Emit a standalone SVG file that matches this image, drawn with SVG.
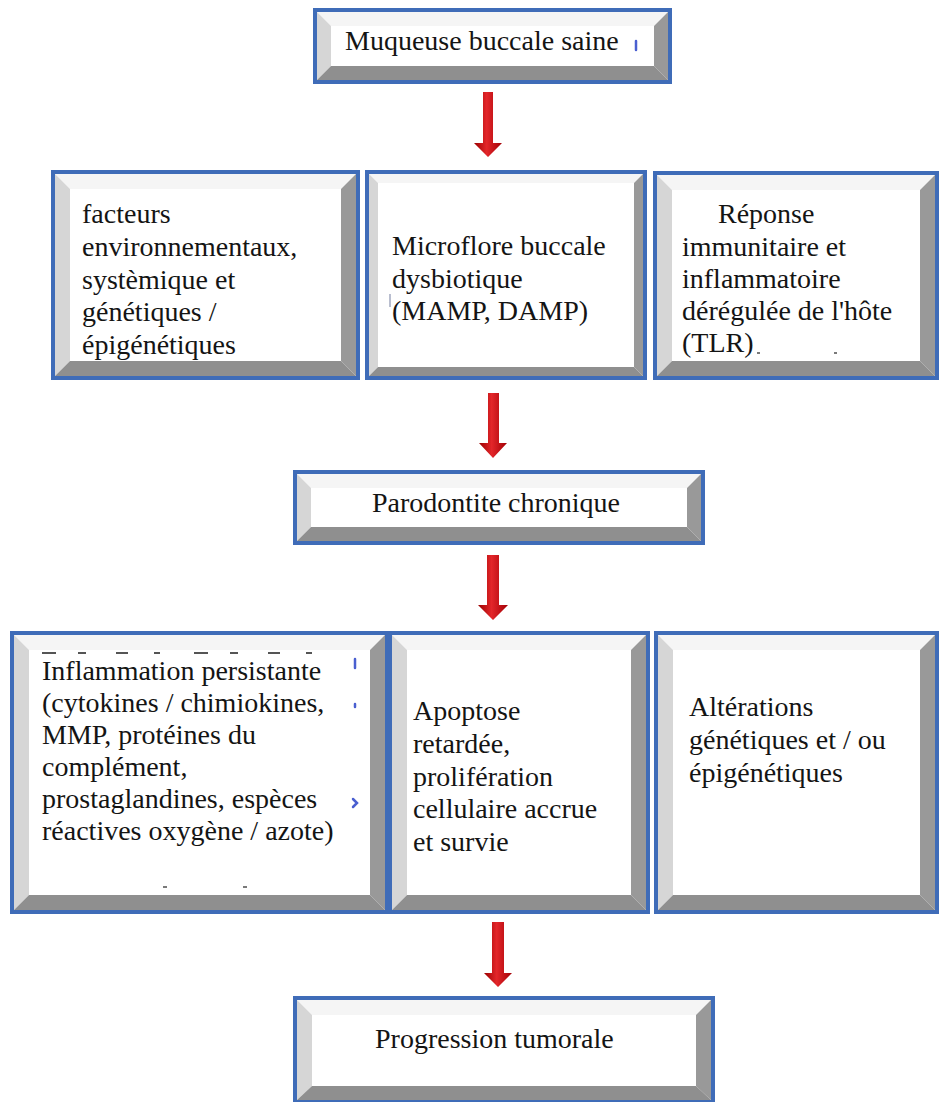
<svg xmlns="http://www.w3.org/2000/svg" width="939" height="1102" viewBox="0 0 939 1102">
<defs>
<linearGradient id="red" x1="0" y1="0" x2="1" y2="0">
<stop offset="0" stop-color="#9a0000"/>
<stop offset="0.45" stop-color="#e3262a"/>
<stop offset="1" stop-color="#a30006"/>
</linearGradient>
<style>
.frame{fill:#ffffff;stroke:#3f6cb8;stroke-width:4}
.bt{fill:#f5f5f5}
.bl{fill:#d6d6d6}
.br{fill:#999999}
.bb{fill:#8f8f8f}
text{font-size:28px;fill:#141414}
.arrow{fill:url(#red)}
.mark{stroke:#4a5fd0;stroke-width:2.5;stroke-linecap:round;fill:none}
.dot{stroke:#7a7a7a;stroke-width:2;fill:none}
</style>
</defs>
<rect width="939" height="1102" fill="#ffffff"/>

<g id="connectors">
<path class="arrow" d="M483,92 H493 V143 H502 L488,157 L474,143 H483 Z"/>
<path class="arrow" d="M488,393 H499 V443 H507 L493,458 L479,443 H488 Z"/>
<path class="arrow" d="M487,555 H499 V605 H508 L493,620 L478,605 H487 Z"/>
<path class="arrow" d="M492,922 H504 V973 H512 L498,987 L484,973 H492 Z"/>
</g>

<g font-family="Liberation Serif, Times New Roman, DejaVu Serif, serif">
<g id="node-muqueuse">
<rect class="frame" x="315" y="10" width="355" height="72"/>
<polygon class="bt" points="317,12 668,12 654,26 331,26"/>
<polygon class="bl" points="317,12 331,26 331,66 317,80"/>
<polygon class="br" points="668,12 668,80 654,66 654,26"/>
<polygon class="bb" points="317,80 331,66 654,66 668,80"/>
<text x="345" y="50">Muqueuse buccale saine</text>
<line class="mark" x1="636" y1="41" x2="636" y2="50"/>
</g>

<g id="node-facteurs">
<rect class="frame" x="53" y="172" width="305" height="206"/>
<polygon class="bt" points="55,174 356,174 341,189 70,189"/>
<polygon class="bl" points="55,174 70,189 70,361 55,376"/>
<polygon class="br" points="356,174 356,376 341,361 341,189"/>
<polygon class="bb" points="55,376 70,361 341,361 356,376"/>
<text x="82" y="223">facteurs</text>
<text x="82" y="256">environnementaux,</text>
<text x="82" y="289">systèmique et</text>
<text x="82" y="321">génétiques /</text>
<text x="82" y="354">épigénétiques</text>
</g>

<g id="node-microflore">
<rect class="frame" x="367" y="172" width="278" height="206"/>
<polygon class="bt" points="369,174 643,174 634,183 378,183"/>
<polygon class="bl" points="369,174 378,183 378,367 369,376"/>
<polygon class="br" points="643,174 643,376 634,367 634,183"/>
<polygon class="bb" points="369,376 378,367 634,367 643,376"/>
<text x="392" y="255">Microflore buccale</text>
<text x="392" y="288">dysbiotique</text>
<text x="392" y="320">(MAMP, DAMP)</text>
<line x1="390" y1="294" x2="390" y2="307" stroke="#8a93b0" stroke-width="1.2"/>
</g>

<g id="node-reponse">
<rect class="frame" x="655" y="173" width="282" height="205"/>
<polygon class="bt" points="657,175 935,175 920,190 672,190"/>
<polygon class="bl" points="657,175 672,190 672,361 657,376"/>
<polygon class="br" points="935,175 935,376 920,361 920,190"/>
<polygon class="bb" points="657,376 672,361 920,361 935,376"/>
<text x="718" y="223">Réponse</text>
<text x="682" y="256">immunitaire et</text>
<text x="682" y="288">inflammatoire</text>
<text x="682" y="320">dérégulée de l'hôte</text>
<text x="682" y="352">(TLR)</text>
<line class="dot" x1="757" y1="353" x2="760" y2="353"/>
<line class="dot" x1="834" y1="353" x2="837" y2="353"/>
</g>

<g id="node-parodontite">
<rect class="frame" x="295" y="472" width="408" height="71"/>
<polygon class="bt" points="297,474 701,474 687,488 311,488"/>
<polygon class="bl" points="297,474 311,488 311,527 297,541"/>
<polygon class="br" points="701,474 701,541 687,527 687,488"/>
<polygon class="bb" points="297,541 311,527 687,527 701,541"/>
<text x="372" y="512">Parodontite chronique</text>
</g>

<g id="node-inflammation">
<rect class="frame" x="12" y="633" width="375" height="279"/>
<polygon class="bt" points="14,635 385,635 370,650 29,650"/>
<polygon class="bl" points="14,635 29,650 29,895 14,910"/>
<polygon class="br" points="385,635 385,910 370,895 370,650"/>
<polygon class="bb" points="14,910 29,895 370,895 385,910"/>
<line x1="42" y1="653" x2="330" y2="653" stroke="#555555" stroke-width="2" stroke-dasharray="14 22 8 30 12 26 6 34"/>
<text x="42" y="680">Inflammation persistante</text>
<text x="42" y="712">(cytokines / chimiokines,</text>
<text x="42" y="744">MMP, protéines du</text>
<text x="42" y="776">complément,</text>
<text x="42" y="808">prostaglandines, espèces</text>
<text x="42" y="840">réactives oxygène / azote)</text>
<line class="mark" x1="355" y1="659" x2="355" y2="668" stroke-width="2"/>
<line class="mark" x1="355" y1="704" x2="355" y2="707" stroke-width="2"/>
<path class="mark" d="M353,799 L357,803 L353,807" stroke-width="2"/>
<line class="dot" x1="163" y1="887" x2="167" y2="887" stroke="#aaaaaa"/>
<line class="dot" x1="243" y1="887" x2="247" y2="887" stroke="#aaaaaa"/>
</g>

<g id="node-apoptose">
<rect class="frame" x="390" y="633" width="258" height="279"/>
<polygon class="bt" points="392,635 646,635 631,650 407,650"/>
<polygon class="bl" points="392,635 407,650 407,895 392,910"/>
<polygon class="br" points="646,635 646,910 631,895 631,650"/>
<polygon class="bb" points="392,910 407,895 631,895 646,910"/>
<text x="413" y="720">Apoptose</text>
<text x="413" y="753">retardée,</text>
<text x="413" y="786">prolifération</text>
<text x="413" y="818">cellulaire accrue</text>
<text x="413" y="851">et survie</text>
</g>

<g id="node-alterations">
<rect class="frame" x="656" y="633" width="281" height="279"/>
<polygon class="bt" points="658,635 935,635 920,650 673,650"/>
<polygon class="bl" points="658,635 673,650 673,895 658,910"/>
<polygon class="br" points="935,635 935,910 920,895 920,650"/>
<polygon class="bb" points="658,910 673,895 920,895 935,910"/>
<text x="689" y="716">Altérations</text>
<text x="689" y="749">génétiques et / ou</text>
<text x="689" y="782">épigénétiques</text>
</g>

<g id="node-progression">
<rect class="frame" x="295" y="998" width="418" height="104"/>
<polygon class="bt" points="297,1000 711,1000 696,1015 312,1015"/>
<polygon class="bl" points="297,1000 312,1015 312,1086 297,1100"/>
<polygon class="br" points="711,1000 711,1100 696,1086 696,1015"/>
<polygon class="bb" points="297,1100 312,1086 696,1086 711,1100"/>
<text x="375" y="1048">Progression tumorale</text>
</g>
</g>
</svg>
